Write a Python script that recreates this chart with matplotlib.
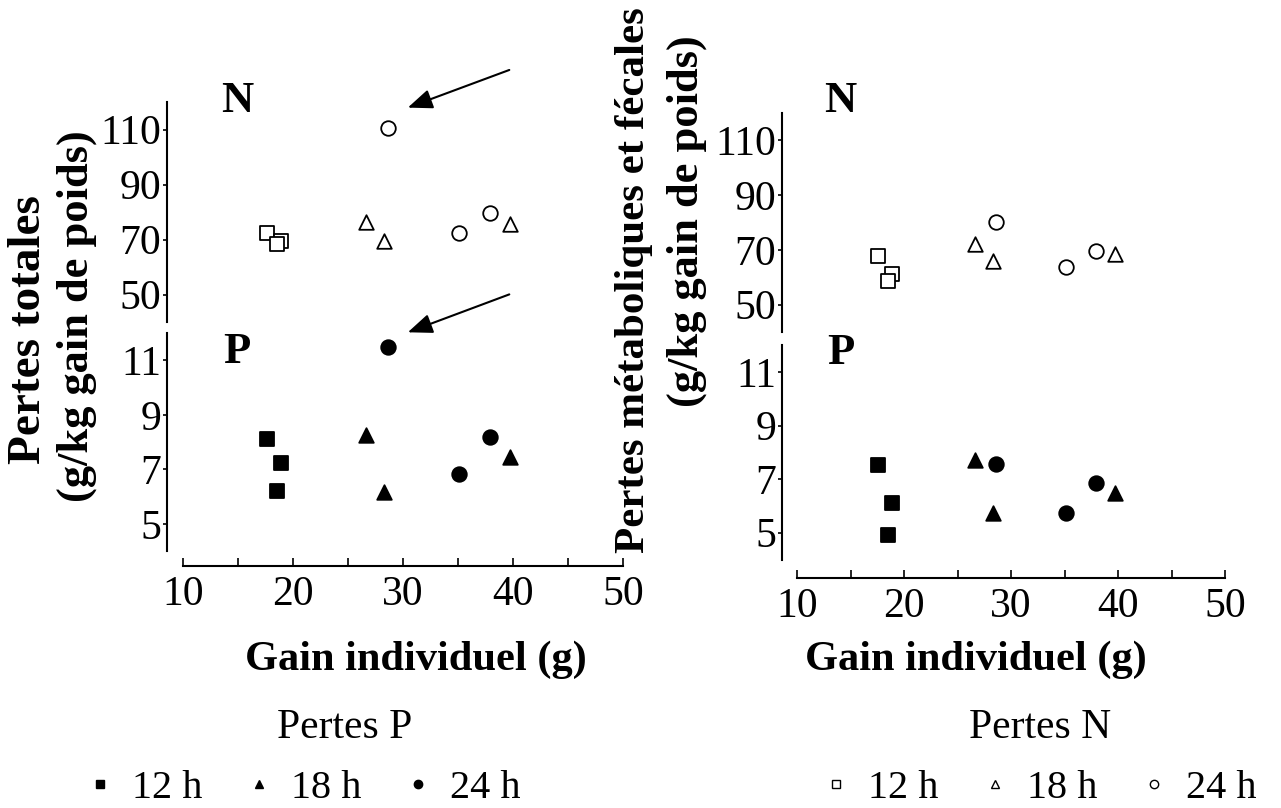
import numpy as np
import matplotlib
matplotlib.use("Agg")
import matplotlib.pyplot as plt
from matplotlib.lines import Line2D

plt.rcParams['font.family'] = ['Liberation Serif', 'DejaVu Serif']

# gain individuel (g) per photoperiod, one value per animal group
gain_12 = [17.6, 18.9, 18.5]
gain_18 = [26.6, 28.3, 39.7]
gain_24 = [28.6, 35.1, 37.9]

# Pertes P panel (totales)
tot_N_12 = [72.2, 69.6, 68.5]
tot_N_18 = [76.5, 69.6, 75.8]
tot_N_24 = [110.4, 72.5, 79.8]
tot_P_12 = [8.1, 7.22, 6.23]
tot_P_18 = [8.25, 6.16, 7.44]
tot_P_24 = [11.5, 6.85, 8.2]

# Pertes N panel (metaboliques et fecales)
met_N_12 = [67.8, 61.2, 58.6]
met_N_18 = [72.2, 66.0, 68.5]
met_N_24 = [80.3, 63.8, 69.6]
met_P_12 = [7.52, 6.1, 4.9]
met_P_18 = [7.7, 5.73, 6.48]
met_P_24 = [7.56, 5.73, 6.85]

n_ticks = [50, 70, 90, 110]
p_ticks = [5, 7, 9, 11]
x_ticks = [10, 20, 30, 40, 50]

W, H = 1281, 808
fig = plt.figure(figsize=(W / 100, H / 100), dpi=100)


def box(l, r, t, b):
    return [l / W, 1 - b / H, (r - l) / W, (b - t) / H]


def style_y(ax, ticks, lo, hi):
    for s in ['top', 'right', 'bottom']:
        ax.spines[s].set_visible(False)
    ax.spines['left'].set_bounds(lo, hi)
    ax.spines['left'].set_linewidth(1.5)
    ax.set_yticks(ticks)
    ax.set_yticklabels([str(t) for t in ticks])
    ax.tick_params(axis='y', direction='out', length=3, width=1.2, pad=1, labelsize=30)
    ax.set_facecolor('none')


def draw_panel(l, r, tn, bn, tp, bx, xlo, ptop, pbot, nvals, pvals, nlab, plab):
    axn = fig.add_axes(box(l, r, tn, bn))
    axp = fig.add_axes(box(l, r, tp, bx))
    axn.set_xlim(xlo, 50)
    axp.set_xlim(xlo, 50)
    axn.set_ylim(40, 120)
    axp.set_ylim(pbot, ptop)
    style_y(axn, n_ticks, 40, 120)
    style_y(axp, p_ticks, 4, 12)
    axn.set_xticks([])
    axp.spines['bottom'].set_visible(True)
    axp.spines['bottom'].set_bounds(10, 50)
    axp.spines['bottom'].set_linewidth(1.5)
    axp.set_xticks(x_ticks)
    axp.set_xticks([15, 25, 35, 45], minor=True)
    axp.tick_params(axis='x', which='both', direction='in', length=6, width=1.2,
                    pad=7, labelsize=30)

    mk = dict(s=110, linewidths=1.3, clip_on=False, zorder=3)
    n12, n18, n24 = nvals
    p12, p18, p24 = pvals
    axn.scatter(gain_12, n12, marker='s', facecolors='white', edgecolors='black', **mk)
    axn.scatter(gain_18, n18, marker='^', facecolors='white', edgecolors='black', **mk)
    axn.scatter(gain_24, n24, marker='o', facecolors='white', edgecolors='black', **mk)
    axp.scatter(gain_12, p12, marker='s', color='black', **mk)
    axp.scatter(gain_18, p18, marker='^', color='black', **mk)
    axp.scatter(gain_24, p24, marker='o', color='black', **mk)

    axn.text(nlab[0], nlab[1], 'N', fontsize=32, fontweight='bold', ha='center',
             va='baseline')
    axp.text(plab[0], plab[1], 'P', fontsize=32, fontweight='bold', ha='center',
             va='baseline')
    return axn, axp


axn1, axp1 = draw_panel(167, 623, 102, 322, 333, 566, 10 - 16 / 11, 12, 12 - 233 / 27.3,
                        (tot_N_12, tot_N_18, tot_N_24), (tot_P_12, tot_P_18, tot_P_24),
                        (14.9, 116.2), (14.9, 10.9))
axn2, axp2 = draw_panel(782, 1225, 113, 332, 343, 578, 10 - 15 / 10.7, 12.08, 12.08 - 235 / 26.8,
                        (met_N_12, met_N_18, met_N_24), (met_P_12, met_P_18, met_P_24),
                        (14.0, 120.3), (14.1, 11.3))

# arrows pointing to the outlier in the totals panel
arrow = dict(arrowstyle='-|>,head_length=1.5,head_width=0.6', color='black', lw=1.5)
axn1.annotate('', xy=(30.2, 117.6), xytext=(39.9, 132), arrowprops=arrow,
              annotation_clip=False)
axp1.annotate('', xy=(30.2, 11.99), xytext=(39.9, 13.45), arrowprops=arrow,
              annotation_clip=False)

# axis titles
fig.text(29 / W, 1 - 330 / H, 'Pertes totales', rotation=90, fontsize=34,
         fontweight='bold', ha='center', va='center')
fig.text(77 / W, 1 - 316 / H, '(g/kg gain de poids)', rotation=90, fontsize=32,
         fontweight='bold', ha='center', va='center')
fig.text(634 / W, 1 - 280 / H, 'Pertes métaboliques et fécales', rotation=90, fontsize=31,
         fontweight='bold', ha='center', va='center')
fig.text(687 / W, 1 - 221 / H, '(g/kg gain de poids)', rotation=90, fontsize=32,
         fontweight='bold', ha='center', va='center')
fig.text(416 / W, 1 - 660 / H, 'Gain individuel (g)', fontsize=30.5, fontweight='bold',
         ha='center', va='center')
fig.text(976 / W, 1 - 660 / H, 'Gain individuel (g)', fontsize=30.5, fontweight='bold',
         ha='center', va='center')
fig.text(345 / W, 1 - 728 / H, 'Pertes P', fontsize=30, ha='center', va='center')
fig.text(1040 / W, 1 - 728 / H, 'Pertes N', fontsize=30, ha='center', va='center')

# legends
labels = ['12 h', '18 h', '24 h']
shapes = ['s', '^', 'o']
filled = [Line2D([], [], ls='none', marker=m, color='black', markersize=6) for m in shapes]
hollow = [Line2D([], [], ls='none', marker=m, markerfacecolor='white',
                 markeredgecolor='black', markersize=6, markeredgewidth=1) for m in shapes]
fig.legend(filled, labels, loc='center', bbox_to_anchor=(304 / W, 1 - 788 / H), ncol=3,
           frameon=False, fontsize=29, handlelength=0.6, handletextpad=0.5,
           columnspacing=1.1, borderpad=0)
fig.legend(hollow, labels, loc='center', bbox_to_anchor=(1040 / W, 1 - 788 / H), ncol=3,
           frameon=False, fontsize=29, handlelength=0.6, handletextpad=0.5,
           columnspacing=1.1, borderpad=0)

fig.savefig('out.png', dpi=100)
